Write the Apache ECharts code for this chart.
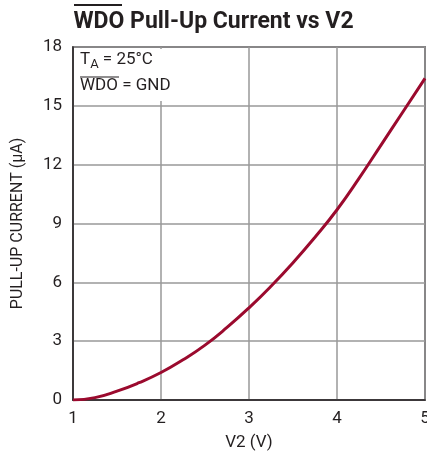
<!DOCTYPE html>
<html>
<head>
<meta charset="utf-8">
<script src="https://cdn.jsdelivr.net/npm/echarts@6/dist/echarts.min.js"></script>
<style>
  html, body { margin: 0; padding: 0; background: #fff; }
  #chart { width: 427px; height: 458px; }
</style>
</head>
<body>
<div id="chart"></div>
<script>
// V2 (V) vs pull-up current (µA)
var v2 = [1, 1.25, 1.5, 1.75, 2, 2.25, 2.5, 2.75, 3, 3.25, 3.5, 3.75, 4, 4.25, 4.5, 4.75, 5];
var current = [0, 0.12, 0.45, 0.88, 1.4, 2.05, 2.8, 3.7, 4.7, 5.8, 7.0, 8.3, 9.7, 11.3, 13.0, 14.7, 16.4];
var xTicks = [1, 2, 3, 4, 5];
var yTicks = [0, 3, 6, 9, 12, 15, 18];

var font = '"Liberation Sans Narrow", "Roboto", sans-serif';
var chart = echarts.init(document.getElementById('chart'));

var option = {
	backgroundColor: '#fff',
	animation: false,
	title: {
		text: 'WDO Pull-Up Current vs V2',
		left: 'center',
		top: 6,
		textStyle: {
			fontFamily: font,
			fontSize: 23,
			fontWeight: 'bold',
			color: '#231f20'
		}
	},
	grid: {
		left: 73,
		right: 2,
		top: 47,
		bottom: 58,
		outerBoundsMode: 'none',
		containLabel: false,
		show: true,
		borderColor: '#231f20',
		borderWidth: 1.5
	},
	xAxis: {
		type: 'value',
		min: xTicks[0],
		max: xTicks[xTicks.length - 1],
		interval: 1,
		name: 'V2 (V)',
		nameLocation: 'middle',
		nameGap: 34,
		nameTextStyle: { fontFamily: font, fontSize: 17, color: '#231f20' },
		axisLabel: { fontFamily: font, fontSize: 17, color: '#231f20', margin: 10 },
		axisLine: { lineStyle: { color: '#231f20', width: 1.5 } },
		axisTick: { show: false },
		splitLine: { show: true, lineStyle: { color: '#999', width: 1.5 } }
	},
	yAxis: {
		type: 'value',
		min: yTicks[0],
		max: yTicks[yTicks.length - 1],
		interval: 3,
		name: 'PULL-UP CURRENT (µA)',
		nameLocation: 'middle',
		nameGap: 47,
		nameTextStyle: { fontFamily: font, fontSize: 16, color: '#231f20' },
		axisLabel: { fontFamily: font, fontSize: 17, color: '#231f20', margin: 11 },
		axisLine: { lineStyle: { color: '#231f20', width: 1.5 } },
		axisTick: { show: false },
		splitLine: { show: true, lineStyle: { color: '#999', width: 1.5 } }
	},
	graphic: [
		// overline on title WDO
		{ type: 'line', shape: { x1: 74, y1: 5, x2: 122, y2: 5 }, style: { stroke: '#231f20', lineWidth: 2 } },
		// white box behind note
		{ type: 'rect', shape: { x: 75, y: 49, width: 94, height: 52 }, style: { fill: '#fff' }, z: 10 },
		{
			type: 'text', left: 80, top: 51, z: 11,
			style: {
				text: '{m|T}{s|A}{m| = 25°C}',
				rich: {
					m: { fontFamily: font, fontSize: 17, fill: '#231f20' },
					s: { fontFamily: font, fontSize: 13, fill: '#231f20', padding: [10, 0, 0, 0] }
				}
			}
		},
		{ type: 'text', left: 80, top: 77, z: 11, style: { text: 'WDO = GND', fontFamily: font, fontSize: 17, fill: '#231f20' } },
		{ type: 'line', z: 11, shape: { x1: 80, y1: 77, x2: 119, y2: 77 }, style: { stroke: '#231f20', lineWidth: 1.2 } }
	],
	series: [{
		type: 'line',
		data: v2.map(function (x, i) { return [x, current[i]]; }),
		smooth: true,
		showSymbol: false,
		lineStyle: { color: '#9b0a2e', width: 3 },
		z: 5
	}]
};

chart.setOption(option);
</script>
</body>
</html>
